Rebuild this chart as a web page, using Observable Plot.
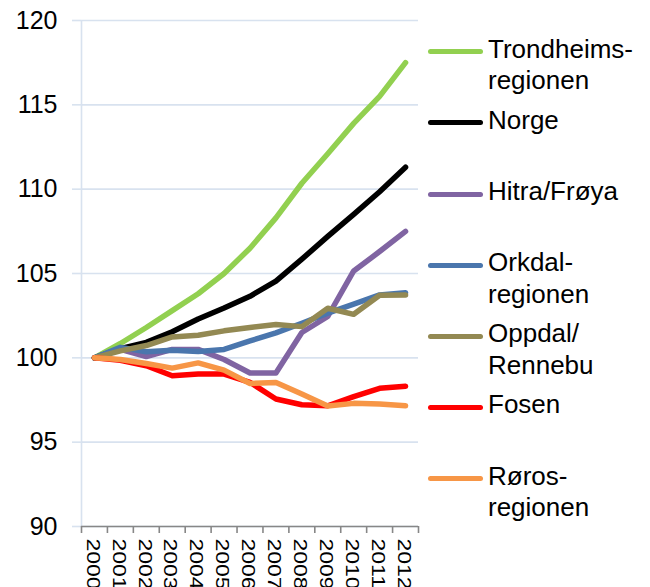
<!DOCTYPE html>
<html>
<head>
<meta charset="utf-8">
<script src="https://cdn.jsdelivr.net/npm/d3@7"></script>
<script src="https://cdn.jsdelivr.net/npm/@observablehq/plot@0.6"></script>
<style>
  html, body { margin: 0; padding: 0; background: #fff; }
  #wrap { position: relative; width: 650px; height: 587px; overflow: hidden; font-family: "Liberation Sans", Arial, sans-serif; }
  #wrap svg { position: absolute; left: 0; top: 0; }
  #legend { position: absolute; left: 428px; top: 33.5px; }
  .item { display: flex; align-items: flex-start; height: 71.2px; }
  .sw { width: 55px; height: 5px; border-radius: 2.5px; margin-top: 15.7px; flex: none; }
  .lab { margin-left: 5px; font-size: 26px; line-height: 31.7px; color: #000; white-space: nowrap; }
</style>
</head>
<body>
<div id="wrap"><div id="legend"></div></div>
<script>
const years = [2000, 2001, 2002, 2003, 2004, 2005, 2006, 2007, 2008, 2009, 2010, 2011, 2012];

const trondheimsregionen = [100, 100.85, 101.8, 102.8, 103.8, 105.0, 106.5, 108.3, 110.35, 112.1, 113.9, 115.5, 117.5];
const norge              = [100, 100.55, 100.92, 101.55, 102.3, 102.95, 103.65, 104.55, 105.85, 107.2, 108.5, 109.85, 111.3];
const hitraFroya         = [100, 100.5, 100.08, 100.5, 100.5, 99.9, 99.1, 99.1, 101.5, 102.45, 105.15, 106.3, 107.5];
const orkdalregionen     = [100, 100.62, 100.36, 100.45, 100.37, 100.5, 101.0, 101.48, 102.05, 102.65, 103.18, 103.73, 103.86];
const oppdalRennebu      = [100, 100.41, 100.73, 101.24, 101.34, 101.6, 101.8, 101.97, 101.85, 102.94, 102.58, 103.71, 103.72];
const fosen              = [100, 99.86, 99.53, 98.94, 99.04, 99.04, 98.55, 97.56, 97.22, 97.16, 97.7, 98.19, 98.31];
const rorosregionen      = [100, 99.9, 99.66, 99.39, 99.7, 99.27, 98.48, 98.54, 97.85, 97.14, 97.3, 97.26, 97.16];

const seriesNames  = ["Trondheimsregionen", "Norge", "Hitra/Frøya", "Orkdalregionen", "Oppdal/Rennebu", "Fosen", "Rørosregionen"];
const legendLabels = ["Trondheims-<br>regionen", "Norge", "Hitra/Frøya", "Orkdal-<br>regionen", "Oppdal/<br>Rennebu", "Fosen", "Røros-<br>regionen"];
const seriesColors = ["#92d050", "#000000", "#8064a2", "#4a76ad", "#938953", "#ff0000", "#f79646"];
const seriesValues = [trondheimsregionen, norge, hitraFroya, orkdalregionen, oppdalRennebu, fosen, rorosregionen];

const yTicks = [90, 95, 100, 105, 110, 115, 120];

const data = seriesNames.flatMap((name, i) =>
  years.map((year, j) => ({ name, year, value: seriesValues[i][j] }))
);
const boundaries = [...years.map(y => y - 0.5), years[years.length - 1] + 0.5];

const gridColor = "#d8e2ef";
const axisColor = "#878787";

const chart = Plot.plot({
  width: 650,
  height: 587,
  marginLeft: 81,
  marginRight: 232,
  marginTop: 20,
  marginBottom: 61,
  style: { fontFamily: "'Liberation Sans', Arial, sans-serif", fontSize: "25px", background: "transparent", color: "#000" },
  x: { domain: [boundaries[0], boundaries[boundaries.length - 1]] },
  y: { domain: [90, 120] },
  color: { domain: seriesNames, range: seriesColors },
  marks: [
    Plot.gridY({ ticks: yTicks, stroke: gridColor, strokeOpacity: 1, strokeWidth: 1.6 }),
    Plot.ruleX([boundaries[0]], { stroke: gridColor, strokeWidth: 1.6 }),
    Plot.axisY({ ticks: yTicks, tickSize: 9, tickPadding: 15, stroke: gridColor, strokeWidth: 1.6, strokeOpacity: 1, fill: "#000", fontSize: 25, label: null }),
    Plot.line(data, { x: "year", y: "value", z: "name", stroke: "name", strokeWidth: 5.5, strokeLinejoin: "round", strokeLinecap: "round" }),
    Plot.ruleY([90], { stroke: axisColor, strokeWidth: 1.6 }),
    Plot.axisX({ ticks: boundaries, tickSize: 7, tickFormat: () => "", stroke: axisColor, strokeWidth: 1.6, strokeOpacity: 1, label: null }),
    Plot.axisX({ ticks: years, tickSize: 0, tickPadding: 12, tickRotate: 90, tickFormat: d => String(d), fontSize: 23, fill: "#000", label: null, dx: -2 })
  ]
});

document.getElementById("wrap").appendChild(chart);

// compress rotated x labels in their glyph-height direction, as in the reference
chart.querySelectorAll('g[aria-label="x-axis tick label"] text').forEach(t => {
  const tr = t.getAttribute("transform");
  if (tr && tr.includes("rotate")) t.setAttribute("transform", tr + " scale(1,0.78)");
});

const legend = document.getElementById("legend");
seriesNames.forEach((name, i) => {
  const item = document.createElement("div");
  item.className = "item";
  item.innerHTML = `<div class="sw" style="background:${seriesColors[i]}"></div><div class="lab">${legendLabels[i]}</div>`;
  legend.appendChild(item);
});
</script>
</body>
</html>
